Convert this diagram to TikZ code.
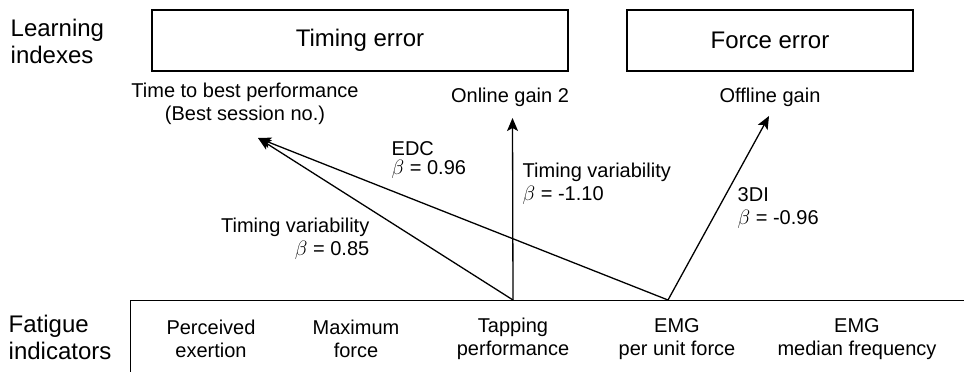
\documentclass[tikz,border=0pt]{standalone}
\usepackage{fontspec}
\setmainfont{Liberation Sans}
\usepackage{amsmath}
\usetikzlibrary{arrows.meta}

\begin{document}
\begin{tikzpicture}[x=1pt, y=-1pt, line width=1.3pt,
  idx/.style = {draw, minimum height=61pt, font=\fontsize{24}{27}\selectfont},
  side/.style = {align=left, anchor=west, font=\fontsize{24}{27}\selectfont},
  txt/.style = {align=center, font=\fontsize{20}{23.5}\selectfont},
  lab/.style = {align=left, anchor=west, font=\fontsize{20}{23}\selectfont},
  arr/.style = {-{Stealth[length=13pt,width=11pt,inset=3pt]}}]
\useasboundingbox (0,0) rectangle (964,372);

\node[side] (learn) at (6.7,41) {Learning\\indexes};
\node[side] (fat) at (4.7,337) {Fatigue\\indicators};

\node[idx, minimum width=416pt] (timing) at (360,40.5) {Timing error};
\node[idx, minimum width=286pt] (force) at (770,40.5) {Force error};

\node[txt] (best) at (245,104) {Time to best performance\\(Best session no.)};
\node[txt] (online) at (510,97) {Online gain 2};
\node[txt] (offline) at (770,97) {Offline gain};

% fatigue box, cut off at the right and bottom
\node[draw, anchor=north west, minimum width=900pt, minimum height=120pt] (fbox) at (129.5,300) {};
\node[txt] (perc) at (211,339) {Perceived\\exertion};
\node[txt] (maxf) at (356,339) {Maximum\\force};
\node[txt] (tapping) at (513,339) {Tapping\\performance};
\node[txt] (emgf) at (677,339) {EMG\\per unit force};
\node[txt] (emgm) at (857,339) {EMG\\median frequency};

\coordinate (tap) at (513,300);
\coordinate (emg) at (668,300);
\coordinate (best-in) at (258,138);
\coordinate (online-in) at (512.5,118);
\coordinate (offline-in) at (769,116);

\draw[arr] (tap) -- (best-in);
\draw[arr] (emg) -- (best-in);
\draw[arr] (tap) -- (online-in);
\draw[arr] (emg) -- (offline-in);

\node[lab, font=\fontsize{20}{19}\selectfont] (edc) at (387.7,160) {EDC\\$\beta$ = 0.96};
\node[lab, anchor=east, align=right] (tv1) at (373.3,239) {Timing variability\\$\beta$ = 0.85};
\node[lab] (tv2) at (518.7,184) {Timing variability\\$\beta$ = -1.10};
\node[lab] (tdi) at (733.7,208.5) {3DI\\$\beta$ = -0.96};

\end{tikzpicture}
\end{document}
